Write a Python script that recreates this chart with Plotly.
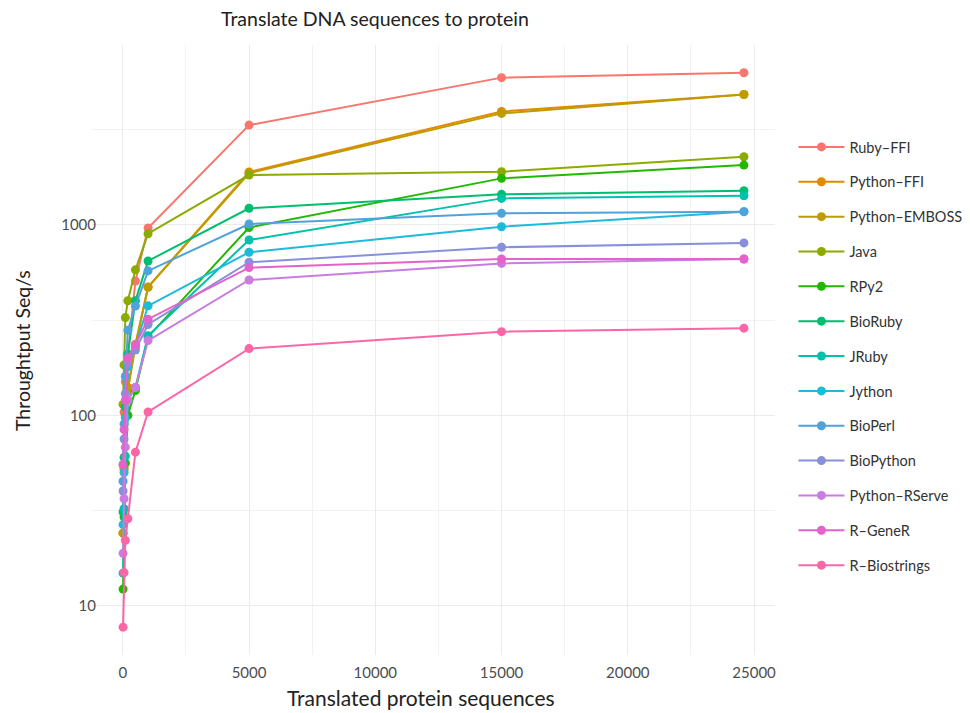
import plotly.graph_objects as go

# Number of translated protein sequences (x)
sequences = [10, 50, 100, 200, 500, 1000, 5000, 15000, 24600]

# Throughput (Seq/s) per implementation
ruby_ffi      = [55, 104, 150, 208, 508, 965, 3350, 5950, 6310]
python_ffi    = [24, 53, 100, 140, 236, 472, 1900, 3950, 4850]
python_emboss = [24, 52, 98, 135, 232, 471, 1870, 3860, 4850]
java          = [114, 184, 326, 400, 581, 900, 1830, 1906, 2285]
rpy2          = [12.2, 29.2, 56, 100, 135, 258, 970, 1758, 2065]
bioruby       = [31, 60, 110, 210, 400, 647, 1224, 1449, 1514]
jruby         = [14.8, 32.3, 61, 120, 140, 262, 834, 1380, 1425]
jython        = [26.6, 50, 97, 180, 230, 376, 719, 979, 1175]
bioperl       = [45, 90, 160, 280, 375, 574, 1012, 1151, 1175]
biopython     = [40, 75, 130, 190, 220, 300, 637, 764, 805]
python_rserve = [18.8, 36.4, 68, 120, 140, 247, 514, 628, 663]
r_gener       = [55, 84, 120, 200, 235, 320, 597, 663, 663]
r_biostrings  = [7.7, 14.9, 22, 28.6, 64, 104, 224, 275, 287]

names = ["Ruby–FFI", "Python–FFI", "Python–EMBOSS", "Java", "RPy2", "BioRuby",
         "JRuby", "Jython", "BioPerl", "BioPython", "Python–RServe", "R–GeneR",
         "R–Biostrings"]
series = [ruby_ffi, python_ffi, python_emboss, java, rpy2, bioruby, jruby,
          jython, bioperl, biopython, python_rserve, r_gener, r_biostrings]
colors = ["#F8766D", "#E18A00", "#BE9C00", "#8CAB00", "#24B700", "#00BE70",
          "#00C1AB", "#1DBBDA", "#4FA2DA", "#8890DC", "#C97DE0", "#E462CC",
          "#FA66A6"]

x_ticks = [0, 5000, 10000, 15000, 20000, 25000]
y_ticks = [10, 100, 1000]

FONT = "Lato"

fig = go.Figure()
for i, (nm, ys, c) in enumerate(zip(names, series, colors)):
    fig.add_trace(go.Scatter(
        x=sequences, y=ys, name=nm, mode="lines+markers",
        line=dict(color=c, width=2),
        marker=dict(color=c, size=9),
        legendgroup=f"g{i}",
    ))

fig.update_layout(
    width=970, height=713,
    paper_bgcolor="white", plot_bgcolor="white",
    margin=dict(l=84, r=203, t=37, b=66, autoexpand=False),
    font=dict(family=FONT, color="#333333"),
    title=dict(text="Translate DNA sequences to protein",
               x=367/970, xanchor="center", y=1-11/713, yanchor="middle",
               font=dict(size=19.5, color="#222222", family=FONT)),
    legend=dict(x=1.027, xanchor="left", y=0.859, yanchor="top",
                font=dict(size=14.5, color="#333333"),
                tracegroupgap=13, bgcolor="rgba(0,0,0,0)",
                itemwidth=46),
    showlegend=True,
    annotations=[
        dict(text="Translated protein sequences", xref="paper", yref="paper",
             x=0.4817, y=-0.0689, xanchor="center", yanchor="middle",
             showarrow=False, font=dict(size=21, color="#222222")),
        dict(text="Throughtput Seq/s", xref="paper", yref="paper",
             x=-0.1025, y=0.5, xanchor="center", yanchor="middle",
             textangle=-90, showarrow=False,
             font=dict(size=19.5, color="#222222")),
    ],
)

fig.update_xaxes(
    range=[-1220, 25830], automargin=False,
    tickvals=x_ticks, ticktext=[str(v) for v in x_ticks],
    showgrid=True, gridcolor="#EBEBEB", gridwidth=1,
    minor=dict(tickvals=[2500, 7500, 12500, 17500, 22500], showgrid=True,
               gridcolor="#F2F2F2", gridwidth=0.8),
    zeroline=False, showline=False, ticks="",
    ticklabelstandoff=7,
    tickfont=dict(size=15, color="#4D4D4D"),
)

fig.update_yaxes(
    type="log", range=[0.740, 3.946], automargin=False,
    tickvals=y_ticks, ticktext=[str(v) for v in y_ticks],
    showgrid=True, gridcolor="#EBEBEB", gridwidth=1,
    minor=dict(tickvals=[10**0.5, 10**1.5, 10**2.5, 10**3.5], showgrid=True,
               gridcolor="#F2F2F2", gridwidth=0.8),
    zeroline=False, showline=False, ticks="",
    ticklabelstandoff=-5,
    tickfont=dict(size=15, color="#4D4D4D"),
)

fig.write_html("out.html")
